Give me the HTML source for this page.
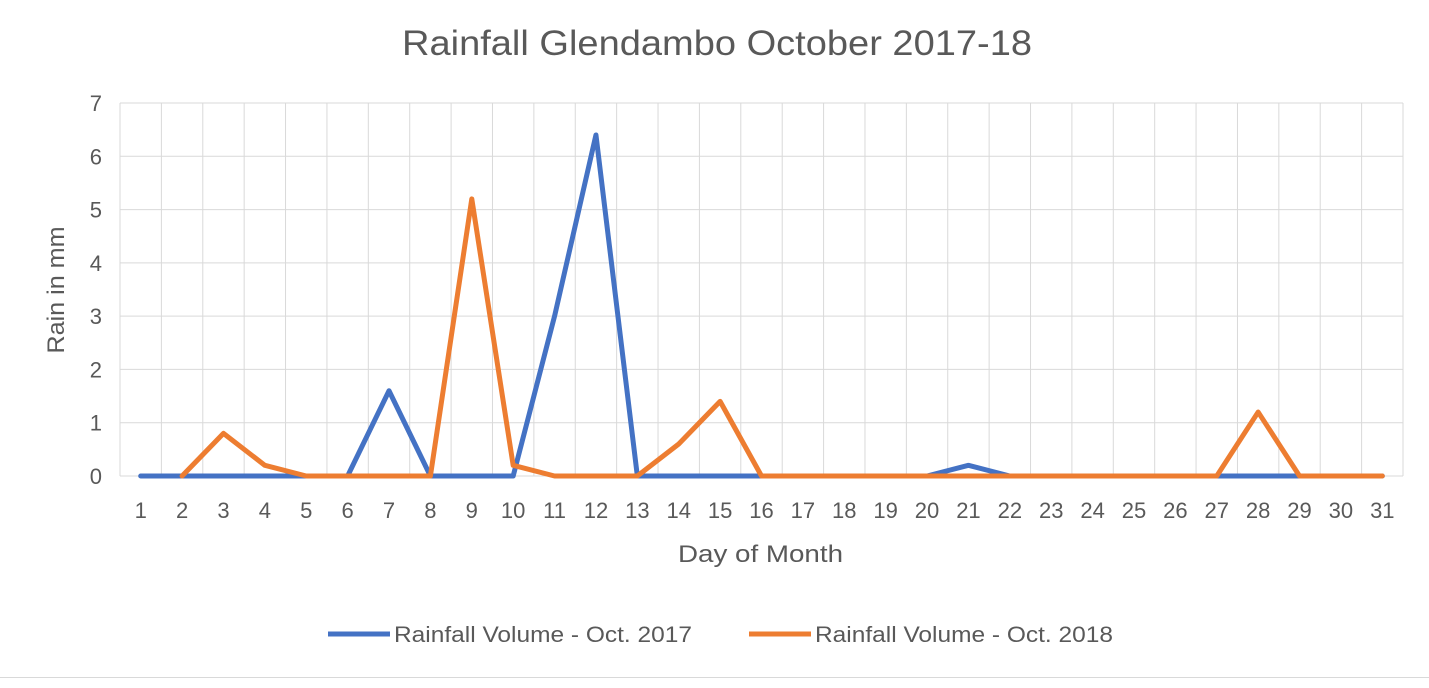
<!DOCTYPE html>
<html><head><meta charset="utf-8"><style>
body{margin:0;background:#fff;}
svg text{font-family:"Liberation Sans",sans-serif;fill:#595959;}
</style></head><body>
<svg id="c" width="1429" height="683" xmlns="http://www.w3.org/2000/svg">
<rect x="0" y="0" width="1429" height="683" fill="#fff"/>
<line x1="0" y1="677.5" x2="1429" y2="677.5" stroke="#d9d9d9" stroke-width="1"/>
<text x="402" y="55" font-size="35" textLength="630" lengthAdjust="spacingAndGlyphs">Rainfall Glendambo October 2017-18</text>
<g id="grid"></g>
<g id="ticks"></g>
<g id="lines"></g>
<text transform="translate(64,290) rotate(-90)" font-size="24" text-anchor="middle" textLength="127" lengthAdjust="spacingAndGlyphs">Rain in mm</text>
<text x="678" y="562" font-size="24" textLength="165" lengthAdjust="spacingAndGlyphs">Day of Month</text>
<g><line x1="328" y1="634" x2="390" y2="634" stroke="#4472c4" stroke-width="5"/><text x="394" y="642" font-size="22" textLength="298" lengthAdjust="spacingAndGlyphs">Rainfall Volume - Oct. 2017</text></g>
<g><line x1="749" y1="634" x2="811" y2="634" stroke="#ed7d31" stroke-width="5"/><text x="815" y="642" font-size="22" textLength="298" lengthAdjust="spacingAndGlyphs">Rainfall Volume - Oct. 2018</text></g>
</svg>
<script>
const days=[1,2,3,4,5,6,7,8,9,10,11,12,13,14,15,16,17,18,19,20,21,22,23,24,25,26,27,28,29,30,31];
const rain2017=[0,0,0,0,0,0,1.6,0,0,0,3,6.4,0,0,0,0,0,0,0,0,0.2,0,0,0,0,0,0,0,0,0,0];
const rain2018=[null,0,0.8,0.2,0,0,0,0,5.2,0.2,0,0,0,0.6,1.4,0,0,0,0,0,0,0,0,0,0,0,0,1.2,0,0,0];
const yTicks=[0,1,2,3,4,5,6,7];
const L=120,R=1403,T=103,B=476,ns="http://www.w3.org/2000/svg";
const bw=(R-L)/days.length;
const xs=i=>L+bw*(i+0.5);
const ys=v=>B-(B-T)*v/7;
function mk(t,a,p){const e=document.createElementNS(ns,t);for(const k in a)e.setAttribute(k,a[k]);p.appendChild(e);return e;}
const g=document.getElementById('grid'),tk=document.getElementById('ticks'),ln=document.getElementById('lines');
for(let i=0;i<=days.length;i++){const x=L+bw*i;const l=mk('line',{x1:x,y1:T,x2:x,y2:B,stroke:'#d9d9d9','stroke-width':1},g);

}
yTicks.forEach(v=>{const l=mk('line',{x1:L,y1:ys(v),x2:R,y2:ys(v),stroke:'#d9d9d9','stroke-width':1},g);


const t=mk('text',{x:102,y:ys(v)+8,'font-size':22,'text-anchor':'end'},tk);t.textContent=v;

});
days.forEach((d,i)=>{const t=mk('text',{x:xs(i),y:518,'font-size':22,'text-anchor':'middle'},tk);t.textContent=d;

});
[[rain2017,'#4472c4','line-2017'],[rain2018,'#ed7d31','line-2018']].forEach(([s,c,n])=>{
const pts=[];s.forEach((v,i)=>{if(v!==null)pts.push(xs(i)+','+ys(v));});
const p=mk('polyline',{points:pts.join(' '),fill:'none',stroke:c,'stroke-width':5,'stroke-linejoin':'round','stroke-linecap':'round'},ln);

});
</script>
</body></html>
